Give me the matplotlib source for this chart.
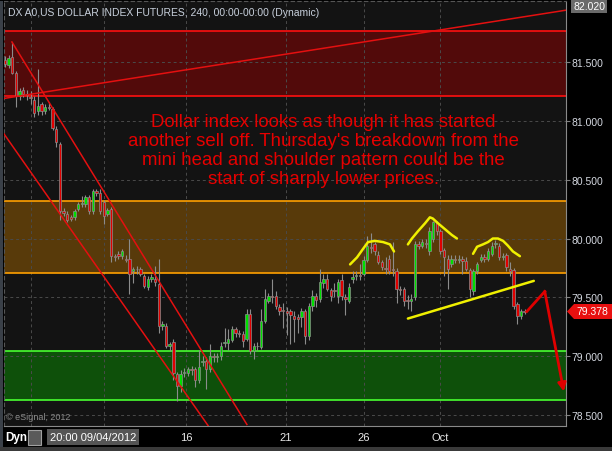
import numpy as np
import matplotlib
matplotlib.use('Agg')
import matplotlib.pyplot as plt
from matplotlib.patches import Polygon, Rectangle

plt.rcParams['font.family'] = ['Liberation Sans', 'DejaVu Sans']

# ---- data -------------------------------------------------------------
title = 'DX A0,US DOLLAR INDEX FUTURES, 240, 00:00-00:00 (Dynamic)'
note = ("Dollar index looks as though it has started\n"
        "another sell off. Thursday's breakdown from the\n"
        "mini head and shoulder pattern could be the\n"
        "start of sharply lower prices.")

opens = [81.52, 81.47, 81.54, 81.41, 81.21, 81.26, 81.23, 81.20, 81.18, 81.08,
         81.14, 81.08, 81.12, 81.10, 80.93, 80.80, 80.23, 80.21, 80.18, 80.18,
         80.25, 80.29, 80.29, 80.35, 80.23, 80.40, 80.39, 80.31, 80.21, 80.25,
         79.85, 79.87, 79.85, 79.83, 79.83, 79.72, 79.74, 79.74, 79.68, 79.59,
         79.66, 79.66, 79.61, 79.26, 79.26, 79.09, 79.12, 78.85, 78.75, 78.86,
         78.86, 78.89, 78.89, 78.80, 78.95, 78.96, 78.89, 79.00, 78.99, 79.00,
         79.11, 79.11, 79.14, 79.23, 79.20, 79.19, 79.15, 79.36, 79.04, 79.09,
         79.08, 79.30, 79.47, 79.51, 79.51, 79.42, 79.39, 79.38, 79.38, 79.34,
         79.33, 79.33, 79.38, 79.17, 79.43, 79.51, 79.49, 79.62, 79.66, 79.56,
         79.56, 79.51, 79.65, 79.50, 79.47, 79.66, 79.68, 79.69, 79.70, 79.82,
         79.93, 79.95, 79.86, 79.80, 79.75, 79.83, 79.74, 79.72, 79.57, 79.57,
         79.48, 79.47, 79.50, 79.95, 79.94, 79.96, 79.89, 80.00, 80.13, 80.06,
         79.90, 79.83, 79.78, 79.83, 79.82, 79.83, 79.81, 79.73, 79.55, 79.72,
         79.82, 79.84, 79.83, 79.87, 79.95, 79.94, 79.84, 79.86, 79.74, 79.73,
         79.44, 79.34, 79.38]
highs = [81.55, 81.56, 81.67, 81.42, 81.28, 81.29, 81.26, 81.25, 81.21, 81.44,
         81.16, 81.14, 81.16, 81.12, 80.96, 80.82, 80.26, 80.23, 80.20, 80.25,
         80.31, 80.36, 80.37, 80.37, 80.42, 80.42, 80.42, 80.33, 80.26, 80.27,
         79.87, 79.89, 79.91, 79.86, 80.00, 79.76, 79.77, 79.76, 79.70, 79.68,
         79.70, 79.77, 79.83, 79.30, 79.28, 79.12, 79.15, 78.87, 78.88, 78.90,
         78.91, 78.92, 78.91, 79.05, 79.00, 78.99, 79.10, 79.03, 79.03, 79.12,
         79.24, 79.23, 79.26, 79.25, 79.22, 79.21, 79.40, 79.40, 79.11, 79.12,
         79.40, 79.57, 79.54, 79.66, 79.55, 79.44, 79.45, 79.42, 79.40, 79.38,
         79.36, 79.41, 79.40, 79.45, 79.56, 79.54, 79.74, 79.70, 79.70, 79.58,
         79.62, 79.66, 79.70, 79.53, 79.62, 79.72, 79.72, 79.78, 79.85, 80.02,
         80.05, 79.97, 79.89, 79.82, 79.84, 79.86, 79.97, 79.75, 79.60, 79.59,
         79.52, 79.53, 79.98, 79.98, 80.00, 80.00, 80.10, 80.15, 80.15, 80.08,
         79.92, 79.86, 79.86, 79.86, 79.86, 79.85, 79.84, 79.75, 79.74, 79.80,
         79.87, 79.87, 79.92, 79.97, 79.99, 79.96, 79.88, 79.88, 79.80, 79.75,
         79.46, 79.40, 79.40]
lows = [81.46, 81.45, 81.40, 81.12, 81.18, 81.20, 81.18, 81.14, 81.03, 81.05,
        81.05, 81.06, 81.09, 80.92, 80.78, 80.16, 80.19, 80.14, 80.15, 80.16,
        80.23, 80.27, 80.27, 80.21, 80.21, 80.36, 80.21, 80.12, 80.19, 79.80,
        79.81, 79.83, 79.83, 79.80, 79.53, 79.62, 79.70, 79.68, 79.58, 79.56,
        79.63, 79.60, 79.20, 79.22, 79.07, 79.04, 78.80, 78.62, 78.70, 78.82,
        78.83, 78.84, 78.74, 78.77, 78.92, 78.72, 78.87, 78.95, 78.95, 78.97,
        79.08, 79.05, 79.12, 79.16, 79.16, 79.08, 79.13, 79.02, 78.98, 79.05,
        79.06, 79.28, 79.45, 79.45, 79.40, 79.35, 79.24, 79.18, 79.10, 79.12,
        79.20, 79.25, 79.10, 79.14, 79.38, 79.42, 79.46, 79.58, 79.55, 79.47,
        79.50, 79.45, 79.48, 79.35, 79.45, 79.62, 79.65, 79.65, 79.68, 79.80,
        79.88, 79.86, 79.78, 79.73, 79.70, 79.70, 79.68, 79.45, 79.52, 79.43,
        79.40, 79.38, 79.48, 79.91, 79.92, 79.92, 79.86, 79.97, 80.03, 79.87,
        79.68, 79.57, 79.76, 79.79, 79.79, 79.70, 79.72, 79.50, 79.52, 79.70,
        79.80, 79.80, 79.81, 79.85, 79.92, 79.82, 79.82, 79.72, 79.68, 79.40,
        79.27, 79.32, 79.36]
closes = [81.48, 81.53, 81.41, 81.21, 81.25, 81.23, 81.22, 81.19, 81.07, 81.13,
          81.08, 81.12, 81.11, 80.94, 80.82, 80.23, 80.22, 80.16, 80.17, 80.23,
          80.29, 80.30, 80.35, 80.23, 80.40, 80.39, 80.23, 80.19, 80.24, 79.85,
          79.84, 79.85, 79.89, 79.82, 79.70, 79.74, 79.74, 79.70, 79.60, 79.66,
          79.67, 79.63, 79.26, 79.27, 79.09, 79.10, 78.86, 78.75, 78.85, 78.87,
          78.89, 78.88, 78.80, 78.91, 78.96, 78.89, 79.00, 78.99, 79.00, 79.09,
          79.12, 79.15, 79.23, 79.20, 79.19, 79.13, 79.36, 79.04, 79.09, 79.09,
          79.30, 79.49, 79.51, 79.50, 79.43, 79.38, 79.38, 79.37, 79.35, 79.32,
          79.32, 79.38, 79.17, 79.43, 79.51, 79.48, 79.63, 79.66, 79.57, 79.51,
          79.55, 79.63, 79.51, 79.49, 79.59, 79.67, 79.69, 79.68, 79.82, 79.94,
          79.92, 79.89, 79.80, 79.76, 79.74, 79.72, 79.73, 79.57, 79.56, 79.47,
          79.47, 79.49, 79.95, 79.94, 79.97, 79.95, 80.06, 80.14, 80.06, 79.89,
          79.84, 79.74, 79.83, 79.82, 79.83, 79.81, 79.74, 79.57, 79.72, 79.78,
          79.84, 79.83, 79.89, 79.94, 79.96, 79.84, 79.85, 79.76, 79.72, 79.43,
          79.34, 79.38, 79.378]

last_price = 79.378
top_price = 82.020
price_ticks = [78.5, 79.0, 79.5, 80.0, 80.5, 81.0, 81.5]
date_pos = [7, 27, 49.5, 76.8, 98, 119]
date_labels = ['', '', '16', '21', '26', 'Oct']
first_bar = '20:00 09/04/2012'

red_zone = (81.21, 81.76)
orange_zone = (79.71, 80.32)
green_zone = (78.63, 79.04)

# hand drawn lines (bar index, price)
chan_hi_x, chan_hi_y = [1.9, 66.1], [81.67, 78.42]
chan_lo_x, chan_lo_y = [-0.3, 55.5], [80.89, 78.41]
trend_x, trend_y = [-0.3, 153.3], [81.19, 81.94]
ls_x = [94.3, 96.2, 97.8, 99.2, 101.1, 103.3, 105.2, 106.3]
ls_y = [79.78, 79.84, 79.91, 79.97, 79.98, 79.97, 79.95, 79.89]
hd_x = [110.1, 111.2, 112.8, 114.8, 116.1, 116.9, 118.3, 120.2, 122.1, 123.5]
hd_y = [79.95, 80.00, 80.06, 80.13, 80.18, 80.17, 80.13, 80.08, 80.03, 80.00]
rs_x = [127.9, 129.0, 130.6, 132.0, 133.3, 134.7, 136.1, 137.4, 138.8, 140.7]
rs_y = [79.87, 79.93, 79.95, 79.97, 80.00, 80.00, 79.98, 79.94, 79.89, 79.85]
neck_x, neck_y = [110.1, 144.5], [79.32, 79.64]
arrow_x, arrow_y = [142.6, 147.5, 152.7], [79.38, 79.55, 78.70]

# ---- figure -----------------------------------------------------------
W, H = 612, 452
fig = plt.figure(figsize=(W / 100, H / 100), dpi=100, facecolor='black')
ax = fig.add_axes([4 / W, 25 / H, 562 / W, 425 / H])
ax.set_facecolor('#131313')
ax.set_xlim(-0.27, 153.3)
ax.set_ylim(78.407, 82.018)

for lo, hi, fill, edge in [(red_zone[0], red_zone[1], '#520a0a', '#ff1010'),
                           (orange_zone[0], orange_zone[1], '#583a0a', '#ffa000'),
                           (green_zone[0], green_zone[1], '#0e500a', '#48ff30')]:
    ax.axhspan(lo, hi, color=fill, lw=0, zorder=1)
    ax.axhline(lo, color=edge, lw=1.2, zorder=2)
    ax.axhline(hi, color=edge, lw=1.2, zorder=2)

ax.grid(True, color='#4a4a4a', linestyle=(0, (3, 3)), lw=0.7)

x = np.arange(len(opens))
o = np.array(opens); c = np.array(closes)
ax.vlines(x, lows, highs, color='#8c8c8c', lw=0.8, zorder=3)
body_col = np.where(c > o, '#00e000', '#e00000')
ax.bar(x, np.abs(c - o), 0.65, bottom=np.minimum(o, c), color=body_col,
       edgecolor='#8c8c8c', linewidth=0.5, zorder=4)

red = '#e41010'
ax.plot(chan_hi_x, chan_hi_y, color=red, lw=1.1, zorder=5)
ax.plot(chan_lo_x, chan_lo_y, color=red, lw=1.1, zorder=5)
ax.plot(trend_x, trend_y, color=red, lw=1.1, zorder=5)

yel = '#f0f000'
for xs, ys in [(ls_x, ls_y), (hd_x, hd_y), (rs_x, rs_y), (neck_x, neck_y)]:
    ax.plot(xs, ys, color=yel, lw=1.8, zorder=6, solid_capstyle='round')

ax.plot(arrow_x[:2], arrow_y[:2], color='#e00000', lw=2, zorder=6)
ax.annotate('', xy=(arrow_x[2], arrow_y[2]), xytext=(arrow_x[1], arrow_y[1]),
            arrowprops=dict(arrowstyle='-|>', color='#e00000', lw=2,
                            mutation_scale=12, shrinkA=0, shrinkB=0),
            zorder=6, annotation_clip=False)

# axes cosmetics
for s in ['right', 'bottom']:
    ax.spines[s].set_color('#8a8a8a')
for s in ['left', 'top']:
    ax.spines[s].set_color('#555555')
    ax.spines[s].set_linestyle((0, (3, 3)))

ax.yaxis.tick_right()
ax.set_yticks(price_ticks)
ax.set_yticklabels(['%.3f' % p for p in price_ticks])
ax.tick_params(axis='y', length=3, pad=1, color='#808080',
               labelcolor='#d4d8e0', labelsize=7.5)
ax.set_xticks(date_pos)
ax.set_xticklabels(date_labels)
ax.tick_params(axis='x', length=0, pad=4.5, labelcolor='#e8e8e8', labelsize=8)

# texts
fig.text(8 / W, 1 - 13 / H, title, ha='left', va='center', fontsize=7.5,
         color='#c8d0dc')
fig.text(323 / W, 1 - 151 / H, note, ha='center', va='center', fontsize=13.4,
         color='#e60000', linespacing=1.17)
fig.text(6 / W, 1 - 417 / H, '\u00a9 eSignal, 2012', ha='left', va='center',
         fontsize=6.5, color='#8a8a8a')

fig.text(589 / W, 1 - 7 / H, '%.3f' % top_price, ha='center', va='center',
         fontsize=7.5, color='white',
         bbox=dict(boxstyle='square,pad=0.2', fc='#6a6a6a', ec='none'))

tag = [(567, 312.5), (574, 305), (612, 305), (612, 320), (574, 320)]
fig.add_artist(Polygon([(px / W, 1 - py / H) for px, py in tag], closed=True,
                       fc='#e81010', ec='none', transform=fig.transFigure))
fig.text(592 / W, 1 - 312.5 / H, '%.3f' % last_price, ha='center', va='center',
         fontsize=7.5, color='white')

# bottom strip
fig.text(5 / W, 1 - 438 / H, 'Dyn', ha='left', va='center', fontsize=8.5,
         color='white', fontweight='bold')
fig.add_artist(Rectangle((28 / W, 1 - 446 / H), 13 / W, 15 / H, fc='#5a5a5a',
                         ec='#a0a0a0', lw=0.8, transform=fig.transFigure))
fig.text(50 / W, 1 - 438 / H, first_bar, ha='left', va='center', fontsize=8,
         color='white',
         bbox=dict(boxstyle='square,pad=0.25', fc='#555555', ec='none'))
fig.add_artist(Rectangle((0, 0), 3 / W, 1 - 2 / H, fc='#3a4048', ec='none',
                         transform=fig.transFigure))
fig.add_artist(Rectangle((0, 0), 1, 4 / H, fc='#3a3a3a', ec='none',
                         transform=fig.transFigure))

plt.savefig('out.png', dpi=100, facecolor='black')
